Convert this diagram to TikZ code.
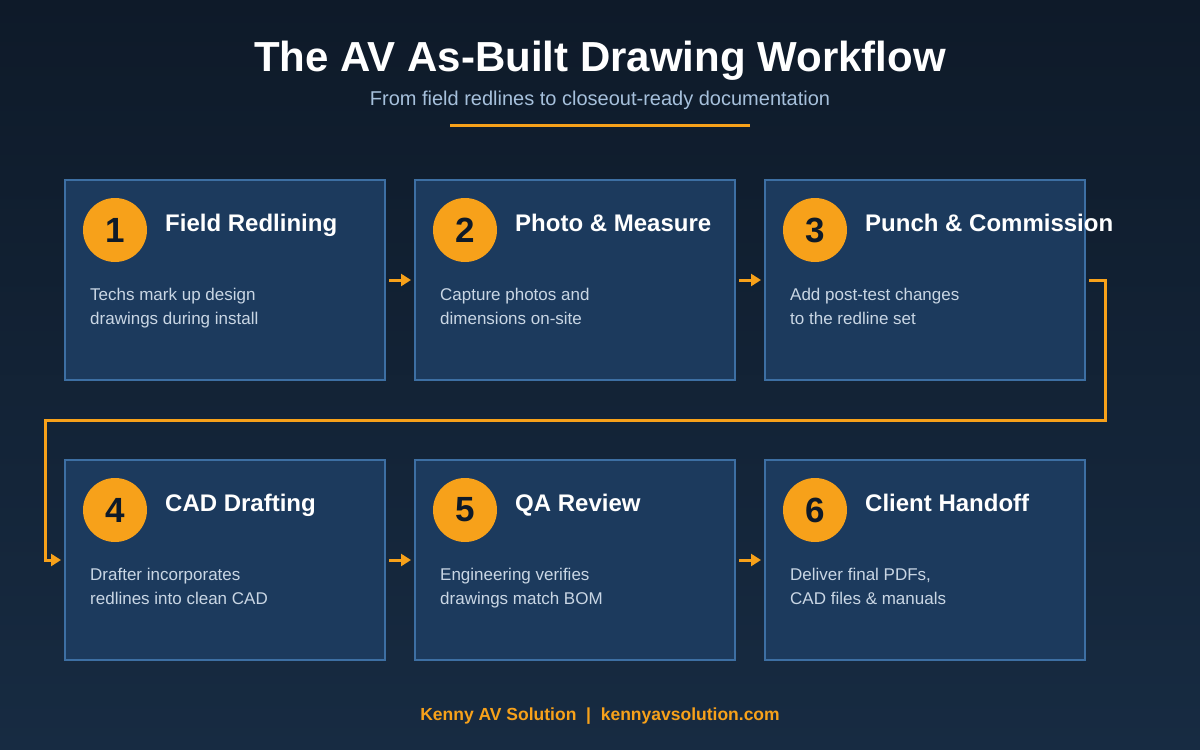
\documentclass[tikz,border=0pt]{standalone}
\usepackage{fontspec}
\setmainfont{Liberation Sans}
\usetikzlibrary{arrows.meta}
\definecolor{bgtop}{HTML}{0E1A29}
\definecolor{bgbottom}{HTML}{172B42}
\definecolor{boxfill}{HTML}{1C3A5D}
\definecolor{boxline}{HTML}{3D6FA3}
\definecolor{accent}{HTML}{F7A11A}
\definecolor{notetext}{HTML}{C9D6E4}
\definecolor{subtext}{HTML}{A6C0DC}
\begin{document}
\begin{tikzpicture}[x=1pt, y=-1pt,
    stepbox/.style={draw=boxline, line width=2pt, fill=boxfill, minimum width=320pt, minimum height=200pt, inner sep=0pt},
    numdot/.style={circle, fill=accent, minimum size=64pt, inner sep=0pt, text=bgtop, font=\fontsize{35}{35}\selectfont\bfseries},
    steptitle/.style={anchor=base west, text=white, inner sep=0pt, font=\fontsize{24}{26}\selectfont\bfseries},
    stepnote/.style={anchor=base west, align=left, text=notetext, inner sep=0pt, font=\fontsize{17}{24}\selectfont},
    flow/.style={draw=accent, line width=3pt, -{Triangle[length=10pt,width=12pt]}, shorten <=3pt, shorten >=3pt}]
    % background
    \shade[top color=bgtop, bottom color=bgbottom] (0,0) rectangle (1200,750);
    \useasboundingbox (0,0) rectangle (1200,750);
    % heading
    \node[anchor=base, text=white, inner sep=0pt, font=\fontsize{42}{46}\selectfont\bfseries] (head) at (600,71) {The AV As-Built Drawing Workflow};
    \node[anchor=base, text=subtext, inner sep=0pt, font=\fontsize{20}{22}\selectfont] (subhead) at (600,105) {From field redlines to closeout-ready documentation};
    \draw[accent, line width=3pt] (450,125) -- (750,125);
    % row 1
    \node[stepbox] (b1) at (225,280) {};
    \node[stepbox] (b2) at (575,280) {};
    \node[stepbox] (b3) at (925,280) {};
    \node[numdot] (n1) at (115,230) {1};
    \node[numdot] (n2) at (465,230) {2};
    \node[numdot] (n3) at (815,230) {3};
    \node[steptitle] (t1) at (165,231) {Field Redlining};
    \node[steptitle] (t2) at (515,231) {Photo \& Measure};
    \node[steptitle] (t3) at (865,231) {Punch \& Commission};
    \node[stepnote] (d1) at (90,324) {Techs mark up design\\drawings during install};
    \node[stepnote] (d2) at (440,324) {Capture photos and\\dimensions on-site};
    \node[stepnote] (d3) at (790,324) {Add post-test changes\\to the redline set};
    % row 2
    \node[stepbox] (b4) at (225,560) {};
    \node[stepbox] (b5) at (575,560) {};
    \node[stepbox] (b6) at (925,560) {};
    \node[numdot] (n4) at (115,510) {4};
    \node[numdot] (n5) at (465,510) {5};
    \node[numdot] (n6) at (815,510) {6};
    \node[steptitle] (t4) at (165,511) {CAD Drafting};
    \node[steptitle] (t5) at (515,511) {QA Review};
    \node[steptitle] (t6) at (865,511) {Client Handoff};
    \node[stepnote] (d4) at (90,604) {Drafter incorporates\\redlines into clean CAD};
    \node[stepnote] (d5) at (440,604) {Engineering verifies\\drawings match BOM};
    \node[stepnote] (d6) at (790,604) {Deliver final PDFs,\\CAD files \& manuals};
    % connectors
    \coordinate (turnR) at (1105,420);
    \coordinate (turnL) at (45,420);
    \draw[flow] (b1) -- (b2);
    \draw[flow] (b2) -- (b3);
    \draw[flow] (b3.east) -| (turnR) -- (turnL) |- (b4.west);
    \draw[flow] (b4) -- (b5);
    \draw[flow] (b5) -- (b6);
    % footer
    \node[anchor=base, text=accent, inner sep=0pt, font=\fontsize{17.5}{20}\selectfont\bfseries] (foot) at (600,720) {Kenny AV Solution \ \textbar\ \ kennyavsolution.com};
\end{tikzpicture}
\end{document}
